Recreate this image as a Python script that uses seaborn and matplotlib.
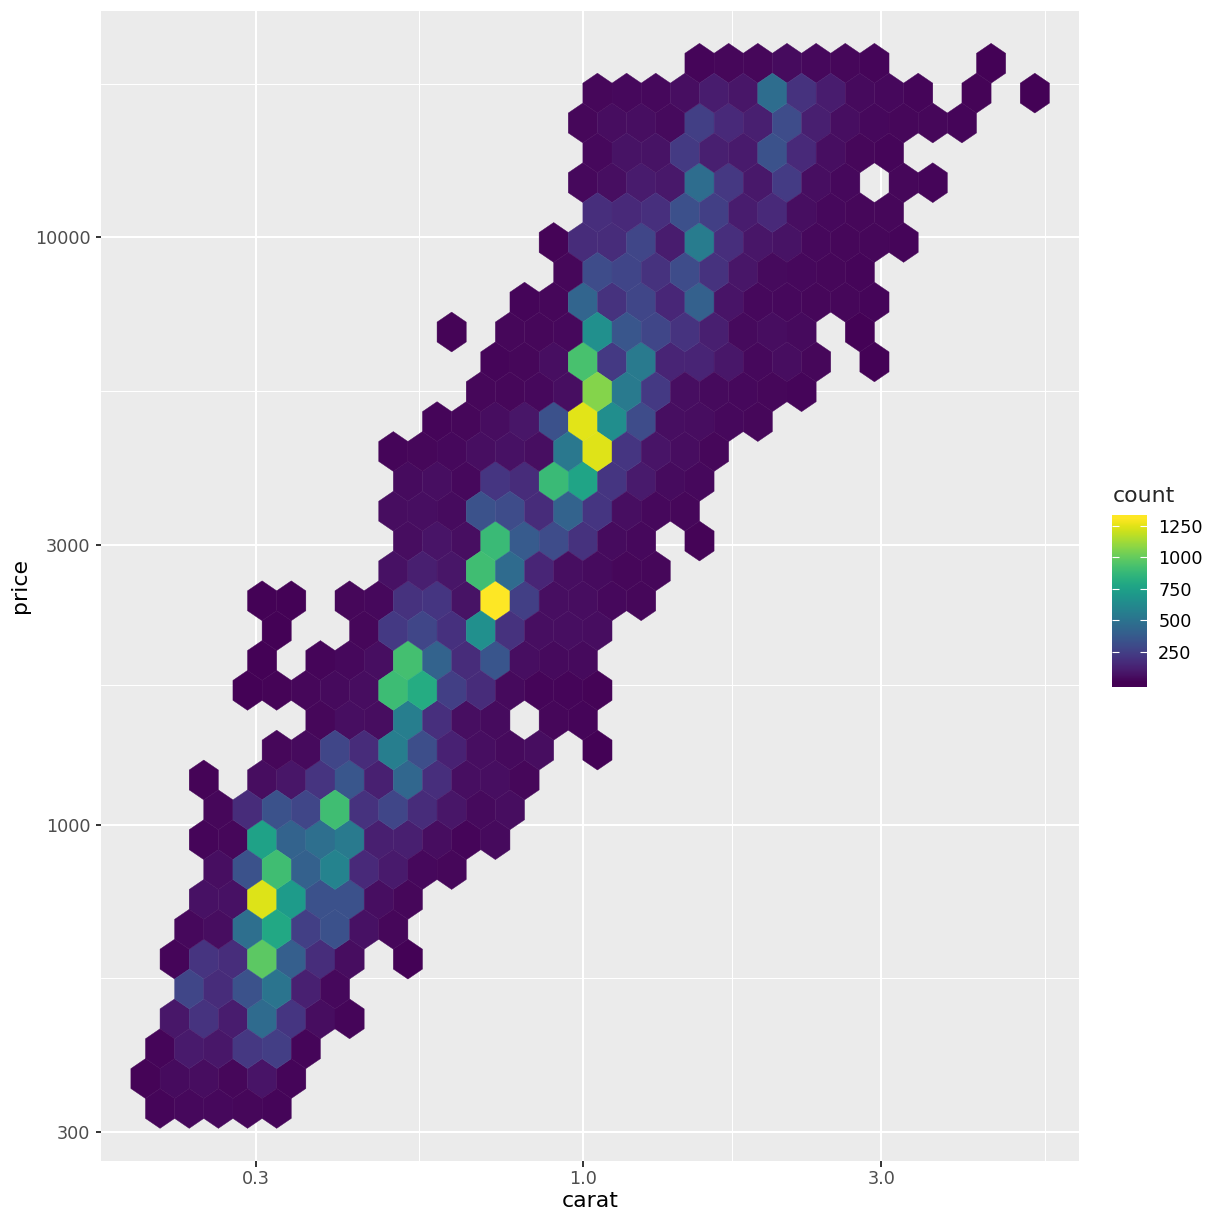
import numpy as np
import matplotlib
matplotlib.use("Agg")
import matplotlib.pyplot as plt
import seaborn as sns
from matplotlib.colors import Normalize

# diamonds data: log10(carat) vs log10(price), hexagon counts
carat_range = [0.2, 5.01]
price_range = [326, 18823]
n_bins = 30

# one entry per hexagon row, bottom to top: first column used, then counts (0 = empty)
row_first = [0, 0, 0, 1, 1, 1, 1, 2, 2, 2, 2, 2, 4, 6, 3, 4, 4, 4,
             8, 9, 8, 9, 8, 10, 11, 12, 10, 13, 14, 14, 15, 15, 15, 15, 15, 19]
row_counts = [
    [20, 30, 30, 25, 20],
    [15, 40, 45, 25, 70, 20],
    [20, 90, 80, 210, 235, 20],
    [80, 190, 100, 450, 200, 45, 20],
    [270, 160, 330, 500, 115, 30],
    [20, 195, 165, 975, 390, 165, 45, 0, 10],
    [30, 45, 470, 780, 240, 325, 60, 25],
    [60, 60, 1230, 710, 325, 325, 50, 25],
    [50, 330, 900, 400, 580, 150, 90, 30, 25],
    [20, 25, 750, 410, 470, 530, 110, 110, 45, 20, 35],
    [25, 160, 330, 270, 900, 185, 270, 160, 75, 35, 45],
    [15, 0, 45, 75, 195, 350, 115, 430, 170, 50, 50, 25],
    [25, 35, 270, 160, 550, 310, 120, 50, 35, 45, 0, 10],
    [25, 50, 45, 550, 175, 50, 40, 0, 25, 20],
    [10, 15, 25, 35, 45, 890, 800, 240, 160, 35, 20, 20, 15],
    [10, 0, 20, 30, 50, 910, 410, 160, 345, 50, 35, 35],
    [10, 0, 0, 25, 215, 275, 180, 650, 185, 50, 50, 45],
    [10, 10, 0, 25, 30, 185, 200, 65, 1300, 240, 50, 45, 30, 25],
    [60, 110, 75, 900, 450, 135, 50, 40, 25, 25],
    [45, 70, 50, 880, 370, 300, 185, 40, 30, 0, 15],
    [45, 50, 40, 330, 300, 160, 410, 200, 50, 30, 25],
    [40, 50, 30, 200, 160, 880, 760, 200, 90, 40, 30],
    [20, 25, 30, 50, 60, 50, 520, 1235, 200, 70, 45, 25],
    [20, 25, 45, 75, 325, 1240, 640, 300, 50, 45, 30, 25],
    [25, 25, 30, 50, 1060, 530, 215, 50, 35, 30, 25, 20],
    [20, 25, 50, 920, 215, 530, 130, 130, 80, 30, 45, 25, 0, 10],
    [15, 0, 25, 25, 30, 650, 350, 270, 190, 110, 35, 45, 35, 0, 10],
    [20, 25, 420, 185, 275, 140, 400, 70, 30, 30, 25, 25, 20],
    [25, 300, 265, 185, 300, 185, 75, 35, 30, 25, 20],
    [15, 160, 160, 275, 100, 540, 170, 75, 65, 30, 25, 25, 20],
    [170, 150, 175, 320, 240, 100, 150, 50, 30, 25, 25],
    [30, 50, 95, 85, 460, 210, 85, 225, 50, 30, 0, 25, 20],
    [30, 65, 65, 220, 110, 90, 330, 150, 50, 25, 20],
    [25, 45, 50, 35, 240, 150, 110, 300, 110, 50, 30, 25, 25, 20],
    [25, 30, 30, 50, 100, 75, 460, 185, 100, 35, 30, 20, 0, 15, 0, 10],
    [20, 25, 25, 40, 30, 25, 20, 0, 0, 0, 10],
]

x_breaks = [0.3, 1.0, 3.0]
x_labels = ["0.3", "1.0", "3.0"]
y_breaks = [300, 1000, 3000, 10000]
y_labels = ["300", "1000", "3000", "10000"]
count_breaks = [250, 500, 750, 1000, 1250]
count_range = [1, 1300]

# hex grid like ggplot2/hexbin
lx_lo, lx_hi = np.log10(carat_range)
ly_lo, ly_hi = np.log10(price_range)
bw_x = (lx_hi - lx_lo) / n_bins
bw_y = (ly_hi - ly_lo) / n_bins
x0 = np.floor(lx_lo / bw_x) * bw_x
y0 = np.floor(ly_lo / bw_y) * bw_y
sy = bw_y * np.sqrt(3)

xs, ys, cs = [], [], []
for r, (first, counts) in enumerate(zip(row_first, row_counts)):
    shift = 0.5 if r % 2 == 0 else 0.0
    for k, n in enumerate(counts):
        if n > 0:
            xs.append(10 ** (x0 + (first + k + shift) * bw_x))
            ys.append(10 ** (y0 + (r + 1) * sy / 2))
            cs.append(n)

sns.set_theme(style="darkgrid", rc={"axes.facecolor": "#EBEBEB", "grid.color": "white"})
plt.rcParams["font.family"] = ["DejaVu Sans"]

W = 1224
fig = plt.figure(figsize=(12.24, 12.24), dpi=100)
ax = fig.add_axes([101 / W, (W - 1160.7) / W, 978.3 / W, 1149.7 / W])

norm = Normalize(*count_range)
nx, ny = 32, 19
ax.hexbin(xs, ys, C=cs, reduce_C_function=np.sum, gridsize=(nx, ny),
          extent=(x0, x0 + nx * bw_x, y0, y0 + ny * sy),
          xscale="log", yscale="log", cmap="viridis", norm=norm,
          edgecolors="face", linewidths=0.3, zorder=2)

# ggplot style minor breaks: midpoints (in log space) of majors, extended one step
def minor_breaks(breaks):
    lb = np.log10(breaks)
    step = lb[1] - lb[0]
    lb = np.concatenate([[lb[0] - step], lb, [lb[-1] + step]])
    return 10 ** ((lb[:-1] + lb[1:]) / 2)

ax.set_xticks(x_breaks)
ax.set_xticklabels(x_labels)
ax.set_xticks(minor_breaks(x_breaks), minor=True)
ax.set_yticks(y_breaks)
ax.set_yticklabels(y_labels)
ax.set_yticks(minor_breaks(y_breaks), minor=True)

# limits: range of hex centres + 5% (set after the ticks so they are not widened)
lxs, lys = np.log10(xs), np.log10(ys)
ex = 0.05 * (lxs.max() - lxs.min())
ey = 0.05 * (lys.max() - lys.min())
ax.set_xlim(10 ** (lxs.min() - ex), 10 ** (lxs.max() + ex))
ax.set_ylim(10 ** (lys.min() - ey), 10 ** (lys.max() + ey))

ax.tick_params(axis="x", which="minor", labelbottom=False)
ax.tick_params(axis="y", which="minor", labelleft=False)
ax.tick_params(which="minor", length=0)
ax.tick_params(which="major", length=3.96, width=1.4, color="#333333",
               labelcolor="#4D4D4D", labelsize=12.67)
ax.tick_params(axis="x", which="major", pad=2.6, bottom=True)
ax.tick_params(axis="y", which="major", pad=3.6, left=True)
ax.grid(which="major", color="white", linewidth=1.5)
ax.grid(which="minor", color="white", linewidth=0.77)
ax.set_axisbelow(True)
for s in ax.spines.values():
    s.set_visible(False)

ax.set_xlabel("carat", fontsize=15.84, color="black", labelpad=2.5)
ax.set_ylabel("price", fontsize=15.84, color="black", labelpad=3.5)

# colour bar legend (ggplot draws it with half-bin margins at both ends)
cax = fig.add_axes([1112.3 / W, (W - 687.3) / W, 34.4 / W, 172.3 / W])
pad_c = 0.025 / 0.95 * (count_range[1] - count_range[0])
lo, hi = count_range[0] - pad_c, count_range[1] + pad_c
cax.imshow(np.linspace(lo, hi, 300)[:, None], aspect="auto", origin="lower",
           extent=[0, 1, lo, hi], cmap="viridis", norm=norm)
cax.set_xlim(0, 1)
cax.set_ylim(lo, hi)
cax.grid(False)
cax.set_xticks([])
cax.set_yticks(count_breaks)
cax.set_yticklabels([str(b) for b in count_breaks])
cax.tick_params(axis="y", direction="in", length=5, width=0.8, color="white",
                left=True, right=True, labelleft=False, labelright=True,
                pad=8.3, labelsize=12.67, labelcolor="black")
for s in cax.spines.values():
    s.set_visible(False)
fig.text(1113 / W, 1 - 502.3 / W, "count", fontsize=15.84, va="baseline", ha="left")

fig.savefig("out.png", dpi=100, facecolor="white")
